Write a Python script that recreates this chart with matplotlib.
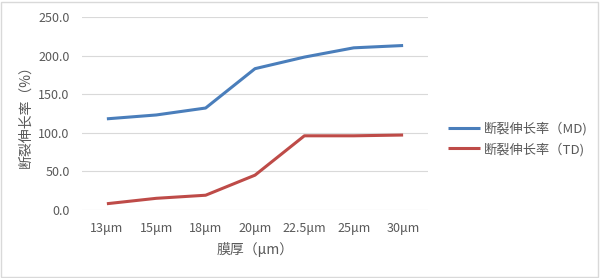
import matplotlib
matplotlib.use("Agg")
import matplotlib.pyplot as plt
from matplotlib.patches import Rectangle

plt.rcParams['font.family'] = ['Noto Sans CJK SC', 'DejaVu Sans']

categories = ["13μm", "15μm", "18μm", "20μm", "22.5μm", "25μm", "30μm"]
md_values = [118, 123, 132, 183, 198, 210, 213]
td_values = [8, 15, 19, 45, 96, 96, 97]
yticks = [0, 50, 100, 150, 200, 250]

grey = "#595959"

fig = plt.figure(figsize=(6, 2.78), dpi=100)
ax = fig.add_axes([0.137, 0.245, 0.576, 0.694])

x = list(range(len(categories)))
ax.plot(x, md_values, color="#4A7EBB", lw=2.2, label="断裂伸长率（MD)", solid_capstyle="butt")
ax.plot(x, td_values, color="#BE4B48", lw=2.2, label="断裂伸长率（TD)", solid_capstyle="butt")

ax.set_xlim(-0.5, len(categories) - 0.5)
ax.set_ylim(0, 250)
ax.set_yticks(yticks)
ax.set_yticklabels([f"{v:.1f}" for v in yticks], color=grey, fontsize=9)
ax.set_xticks(x)
ax.set_xticklabels(categories, color=grey, fontsize=9)
ax.tick_params(length=0, pad=9)
ax.tick_params(axis="y", pad=9)
ax.grid(axis="y", color="#D9D9D9", lw=0.8)
ax.set_axisbelow(True)
for s in ax.spines.values():
    s.set_visible(False)

ax.set_xlabel("膜厚（μm）", color=grey, fontsize=10, labelpad=5)
ax.set_ylabel("断裂伸长率（%）", color=grey, fontsize=10, labelpad=4)

fig.legend(loc="center left", bbox_to_anchor=(0.727, 0.5), frameon=False,
           fontsize=9.5, labelcolor=grey, handlelength=2.4, handletextpad=0.3,
           labelspacing=0.5)

fig.patches.append(Rectangle((0.002, 0.004), 0.994, 0.99, transform=fig.transFigure,
                             fill=False, edgecolor="#D9D9D9", lw=1))

fig.savefig("out.png", dpi=100)
